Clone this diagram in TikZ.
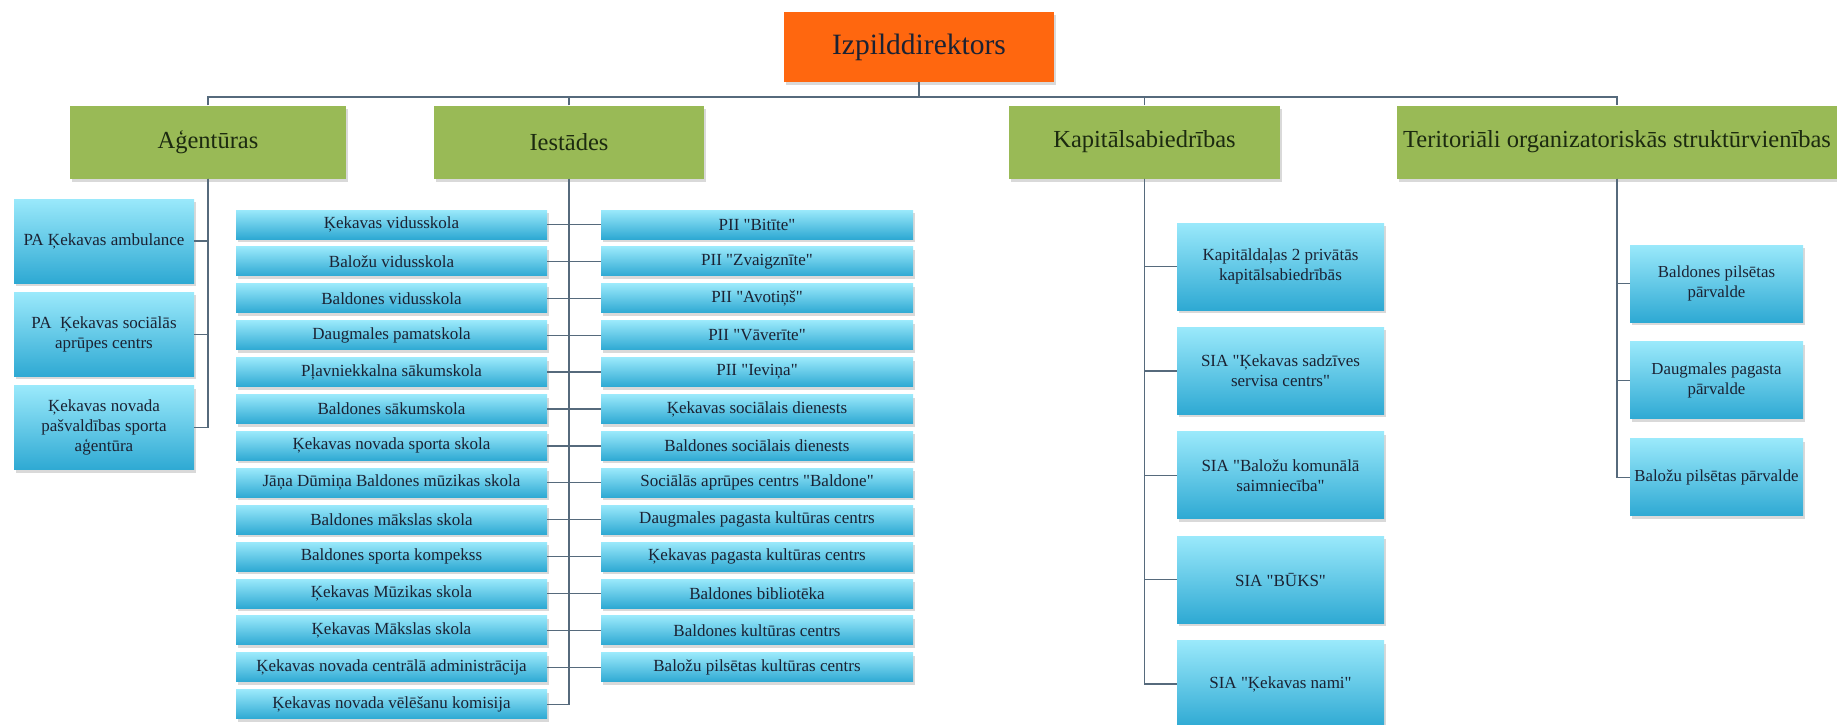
\documentclass[tikz,border=0pt]{standalone}
\usepackage{fontspec}
\setmainfont{Liberation Serif}
\usepackage{tikz}
\usetikzlibrary{positioning,shadows}
\usepackage{xcolor}
\definecolor{headorange}{HTML}{FF670F}
\definecolor{groupgreen}{HTML}{99BA56}
\definecolor{celltop}{HTML}{9AE9FB}
\definecolor{cellbottom}{HTML}{2EA9D3}
\definecolor{linkgray}{HTML}{566A7C}
\definecolor{darktext}{HTML}{1B2233}
\definecolor{greentext}{HTML}{1C2A10}
\newcommand\qt[1]{\textquotedbl#1\textquotedbl}

\begin{document}
\begin{tikzpicture}[x=1pt, y=-1pt,
  topbox/.style={rectangle, fill=headorange, text=darktext,
                 minimum width=270pt, minimum height=70pt,
                 font=\fontsize{29.5}{34}\selectfont,
                 drop shadow={shadow xshift=2pt, shadow yshift=-3pt, opacity=0.3}},
  groupbox/.style={rectangle, fill=groupgreen, text=greentext, inner sep=1pt,
                   minimum height=73pt, font=\fontsize{24.5}{28}\selectfont,
                   drop shadow={shadow xshift=2pt, shadow yshift=-3pt, opacity=0.3}},
  unitbox/.style={rectangle, top color=celltop, bottom color=cellbottom,
                  text=darktext, inner sep=2pt, align=center,
                  font=\fontsize{17}{20}\selectfont,
                  drop shadow={shadow xshift=2pt, shadow yshift=-3pt, opacity=0.3}},
  rowbox/.style={unitbox, minimum width=311pt, minimum height=29pt},
  agbox/.style={unitbox, minimum width=180pt, minimum height=84pt},
  kpbox/.style={unitbox, minimum width=207pt, minimum height=87pt},
  trbox/.style={unitbox, minimum width=173pt, minimum height=77pt,
                font=\fontsize{16.8}{20}\selectfont},
  link/.style={draw=linkgray, line width=1.3pt},
]
  \useasboundingbox (0,0) rectangle (1837,724);

  \node[topbox] (dir) at (919,47) {Izpilddirektors};
  \coordinate (bus) at (919,97);

  \node[groupbox, minimum width=276pt] (ag) at (208,142) {Aģentūras};
  \node[groupbox, minimum width=270pt] (ie) at (569,142) {Iestādes};
  \node[groupbox, minimum width=271pt] (kap) at (1144.5,142) {Kapitālsabiedrības};
  \node[groupbox, minimum width=440pt] (ter) at (1617,142) {Teritoriāli organizatoriskās struktūrvienības};

  % agentūras
  \node[agbox] (ag1) at (104,241) {PA Ķekavas ambulance};
  \node[agbox, below=9pt of ag1] (ag2) {PA \ Ķekavas sociālās\\aprūpes centrs};
  \node[agbox, below=9pt of ag2] (ag3) {Ķekavas novada\\pašvaldības sporta\\aģentūra};

  % iestādes, left column
  \node[rowbox] (il1) at (391.5,224.5) {Ķekavas vidusskola};
  \node[rowbox, below=7.5pt of il1] (il2) {Baložu vidusskola};
  \node[rowbox, below=7.5pt of il2] (il3) {Baldones vidusskola};
  \node[rowbox, below=7.5pt of il3] (il4) {Daugmales pamatskola};
  \node[rowbox, below=7.5pt of il4] (il5) {Pļavniekkalna sākumskola};
  \node[rowbox, below=7.5pt of il5] (il6) {Baldones sākumskola};
  \node[rowbox, below=7.5pt of il6] (il7) {Ķekavas novada sporta skola};
  \node[rowbox, below=7.5pt of il7] (il8) {Jāņa Dūmiņa Baldones mūzikas skola};
  \node[rowbox, below=7.5pt of il8] (il9) {Baldones mākslas skola};
  \node[rowbox, below=7.5pt of il9] (il10) {Baldones sporta kompekss};
  \node[rowbox, below=7.5pt of il10] (il11) {Ķekavas Mūzikas skola};
  \node[rowbox, below=7.5pt of il11] (il12) {Ķekavas Mākslas skola};
  \node[rowbox, below=7.5pt of il12] (il13) {Ķekavas novada centrālā administrācija};
  \node[rowbox, below=7.5pt of il13] (il14) {Ķekavas novada vēlēšanu komisija};

  % iestādes, right column
  \node[rowbox, minimum width=312pt] (ir1) at (757,224.5) {PII \qt{Bitīte}};
  \node[rowbox, minimum width=312pt, below=7.5pt of ir1] (ir2) {PII \qt{Zvaigznīte}};
  \node[rowbox, minimum width=312pt, below=7.5pt of ir2] (ir3) {PII \qt{Avotiņš}};
  \node[rowbox, minimum width=312pt, below=7.5pt of ir3] (ir4) {PII \qt{Vāverīte}};
  \node[rowbox, minimum width=312pt, below=7.5pt of ir4] (ir5) {PII \qt{Ieviņa}};
  \node[rowbox, minimum width=312pt, below=7.5pt of ir5] (ir6) {Ķekavas sociālais dienests};
  \node[rowbox, minimum width=312pt, below=7.5pt of ir6] (ir7) {Baldones sociālais dienests};
  \node[rowbox, minimum width=312pt, below=7.5pt of ir7] (ir8) {Sociālās aprūpes centrs \qt{Baldone}};
  \node[rowbox, minimum width=312pt, below=7.5pt of ir8] (ir9) {Daugmales pagasta kultūras centrs};
  \node[rowbox, minimum width=312pt, below=7.5pt of ir9] (ir10) {Ķekavas pagasta kultūras centrs};
  \node[rowbox, minimum width=312pt, below=7.5pt of ir10] (ir11) {Baldones bibliotēka};
  \node[rowbox, minimum width=312pt, below=7.5pt of ir11] (ir12) {Baldones kultūras centrs};
  \node[rowbox, minimum width=312pt, below=7.5pt of ir12] (ir13) {Baložu pilsētas kultūras centrs};

  % kapitālsabiedrības
  \node[kpbox] (kp1) at (1280.5,266.5) {Kapitāldaļas 2 privātās\\kapitālsabiedrībās};
  \node[kpbox, below=17pt of kp1] (kp2) {SIA \qt{Ķekavas sadzīves\\servisa centrs}};
  \node[kpbox, below=17pt of kp2] (kp3) {SIA \qt{Baložu komunālā\\saimniecība}};
  \node[kpbox, below=17pt of kp3] (kp4) {SIA \qt{BŪKS}};
  \node[kpbox, below=17pt of kp4] (kp5) {SIA \qt{Ķekavas nami}};

  % teritoriālās struktūrvienības
  \node[trbox] (tr1) at (1716.5,283.5) {Baldones pilsētas\\pārvalde};
  \node[trbox, below=19.5pt of tr1] (tr2) {Daugmales pagasta\\pārvalde};
  \node[trbox, below=19.5pt of tr2] (tr3) {Baložu pilsētas pārvalde};

  % connectors
  \draw[link] (dir) -- (bus);
  \draw[link] (ag.north) |- (bus) -| (ter.north);
  \draw[link] (ie.north) -- (ie.north |- bus);
  \draw[link] (kap.north) -- (kap.north |- bus);

  \draw[link] (ag.south) |- (ag1.east);
  \draw[link] (ag.south) |- (ag2.east);
  \draw[link] (ag.south) |- (ag3.east);

  \draw[link] (ie.south) |- (il14.east);
  \draw[link] (il1.east) -- (ir1.west);
  \draw[link] (il2.east) -- (ir2.west);
  \draw[link] (il3.east) -- (ir3.west);
  \draw[link] (il4.east) -- (ir4.west);
  \draw[link] (il5.east) -- (ir5.west);
  \draw[link] (il6.east) -- (ir6.west);
  \draw[link] (il7.east) -- (ir7.west);
  \draw[link] (il8.east) -- (ir8.west);
  \draw[link] (il9.east) -- (ir9.west);
  \draw[link] (il10.east) -- (ir10.west);
  \draw[link] (il11.east) -- (ir11.west);
  \draw[link] (il12.east) -- (ir12.west);
  \draw[link] (il13.east) -- (ir13.west);

  \draw[link] (kap.south) |- (kp1.west);
  \draw[link] (kap.south) |- (kp2.west);
  \draw[link] (kap.south) |- (kp3.west);
  \draw[link] (kap.south) |- (kp4.west);
  \draw[link] (kap.south) |- (kp5.west);

  \draw[link] (ter.south) |- (tr1.west);
  \draw[link] (ter.south) |- (tr2.west);
  \draw[link] (ter.south) |- (tr3.west);
\end{tikzpicture}
\end{document}
